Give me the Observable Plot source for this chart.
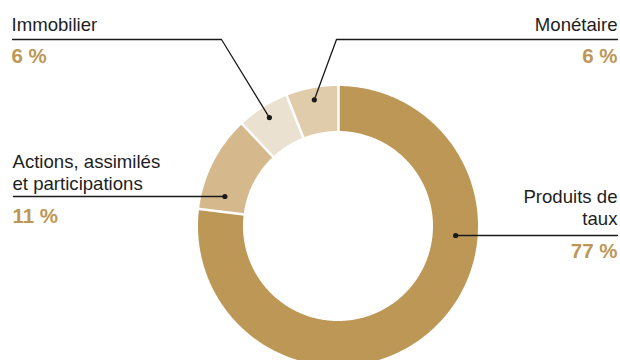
<!DOCTYPE html>
<html><head><meta charset="utf-8">
<script src="https://cdn.jsdelivr.net/npm/d3@7"></script>
<script src="https://cdn.jsdelivr.net/npm/@observablehq/plot@0.6"></script>
<style>html,body{margin:0;padding:0;background:#fff;overflow:hidden}#chart svg{display:block}</style>
</head><body><div id="chart"></div>
<script>
// ---- data ----
const categories = ["Produits de taux", "Actions, assimilés et participations", "Immobilier", "Monétaire"];
const labelLines = ["Produits de\ntaux", "Actions, assimilés\net participations", "Immobilier", "Monétaire"];
const shares = [77, 11, 6, 6];
const colors = ["#BD9756", "#D5B98D", "#EAE1D1", "#E0CCAA"];

// ---- layout (pixels) ----
const W = 620, H = 360;
const cx = 338, cy = 226, rOuter = 140, rInner = 95;
const layout = {
  "Produits de taux": {anchor: "end", tx: 617, labelY: 224, pctY: 257, leaderY: 235, dot: "ring"},
  "Actions, assimilés et participations": {anchor: "start", tx: 12, labelY: 189, pctY: 222, leaderY: 196, dot: "ring"},
  "Immobilier": {anchor: "start", tx: 11, labelY: 30, pctY: 62, leaderY: 39, elbowX: 221, dot: "mid", dotR: 129},
  "Monétaire": {anchor: "end", tx: 617, labelY: 30, pctY: 62, leaderY: 39, elbowX: 336, dot: "mid", dotR: 129}
};

const total = d3.sum(shares);
const px = (r, a) => cx + r * Math.sin(a);
const py = (r, a) => cy - r * Math.cos(a);

// slices
const arcPts = [], seps = [], dots = [], leaders = [], labels = [];
let cum = 0;
categories.forEach((cat, i) => {
  const a0 = 2 * Math.PI * cum / total;
  cum += shares[i];
  const a1 = 2 * Math.PI * cum / total;
  const n = Math.max(2, Math.ceil((a1 - a0) / (Math.PI / 360)));
  for (let k = 0; k <= n; k++) {
    const a = a0 + (a1 - a0) * k / n;
    arcPts.push({cat, xo: px(rOuter, a), yo: py(rOuter, a), xi: px(rInner, a), yi: py(rInner, a)});
  }
  seps.push({x1: px(rInner - 2, a0), y1: py(rInner - 2, a0), x2: px(rOuter + 2, a0), y2: py(rOuter + 2, a0)});

  const L = layout[cat];
  let d;
  if (L.dot === "mid") {
    const am = (a0 + a1) / 2;
    d = {x: px(L.dotR, am), y: py(L.dotR, am)};
  } else {
    const rm = (rOuter + rInner) / 2;
    const dy = L.leaderY - cy;
    const dx = Math.sqrt(rm * rm - dy * dy) * (L.anchor === "end" ? 1 : -1);
    d = {x: cx + dx, y: L.leaderY};
  }
  dots.push(d);
  const textEnd = L.anchor === "start" ? L.tx + 1 : L.tx;
  leaders.push({cat, x: textEnd, y: L.leaderY});
  if (L.elbowX !== undefined) leaders.push({cat, x: L.elbowX, y: L.leaderY});
  leaders.push({cat, x: d.x, y: d.y});
  labels.push({cat, text: labelLines[i], pct: `${shares[i]} %`, x: L.tx, y: L.labelY, py: L.pctY, anchor: L.anchor});
});

const font = "'Liberation Sans', Arial, Helvetica, sans-serif";
const chart = Plot.plot({
  width: W, height: H, margin: 0,
  x: {domain: [0, W], range: [0, W], axis: null},
  y: {domain: [0, H], range: [0, H], axis: null},
  color: {domain: categories, range: colors},
  style: {fontFamily: font, background: "white"},
  marks: [
    Plot.area(arcPts, {x1: "xo", y1: "yo", x2: "xi", y2: "yi", z: "cat", fill: "cat", curve: "linear"}),
    Plot.link(seps, {x1: "x1", y1: "y1", x2: "x2", y2: "y2", stroke: "white", strokeWidth: 2.5}),
    Plot.line(leaders, {x: "x", y: "y", z: "cat", stroke: "#1a1a1a", strokeWidth: 1.3, curve: "linear"}),
    Plot.dot(dots, {x: "x", y: "y", r: 2.6, fill: "#1a1a1a", stroke: null}),
    Plot.text(labels.filter(d => d.anchor === "start"), {x: "x", y: "y", text: "text", textAnchor: "start", lineAnchor: "bottom", fontSize: 18.6, lineHeight: 1.13, fill: "#1e1e1e"}),
    Plot.text(labels.filter(d => d.anchor === "end"), {x: "x", y: "y", text: "text", textAnchor: "end", lineAnchor: "bottom", fontSize: 18.6, lineHeight: 1.13, fill: "#1e1e1e"}),
    Plot.text(labels.filter(d => d.anchor === "start"), {x: "x", y: "py", text: "pct", textAnchor: "start", lineAnchor: "bottom", fontSize: 20.5, fontWeight: "bold", fill: "#BD9756"}),
    Plot.text(labels.filter(d => d.anchor === "end"), {x: "x", y: "py", text: "pct", textAnchor: "end", lineAnchor: "bottom", fontSize: 20.5, fontWeight: "bold", fill: "#BD9756"})
  ]
});
document.getElementById("chart").appendChild(chart);
</script>
</body></html>
